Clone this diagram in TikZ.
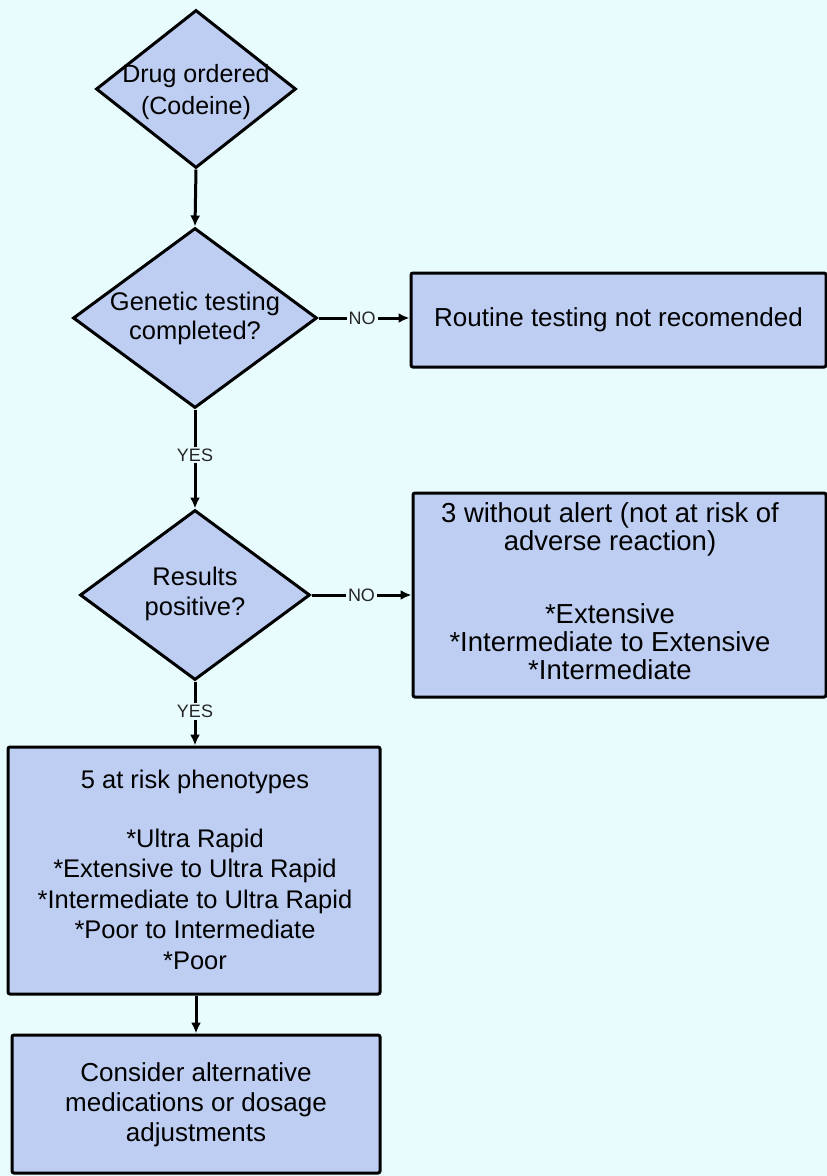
\documentclass[tikz,border=0pt]{standalone}
\usepackage{fontspec}
\setmainfont{Liberation Sans}
\usetikzlibrary{shapes.geometric,arrows.meta}
\definecolor{bg}{RGB}{232,251,253}
\definecolor{boxfill}{RGB}{189,206,242}
\begin{document}
\begin{tikzpicture}[x=1pt,y=-1pt,
  dia/.style={diamond, draw=black, line width=3pt, fill=boxfill, inner sep=0pt},
  box/.style={rectangle, draw=black, line width=3pt, fill=boxfill, inner sep=0pt, rounded corners=2pt},
  txt/.style={align=center, inner sep=0pt},
  conn/.style={line width=3pt, -{Latex[length=11pt,width=10pt]}},
  lbl/.style={fill=bg, inner sep=2pt, font=\fontsize{18}{18}\selectfont, text=black!85}]
\fill[bg] (0,0) rectangle (827,1176);
\useasboundingbox (0,0) rectangle (827,1176);

% diamonds
\node[dia, minimum width=200pt, minimum height=158pt] (d1) at (196,89) {};
\node[txt, font=\fontsize{25}{32}\selectfont] (t1) at (196,92) {Drug ordered\\(Codeine)};

\node[dia, minimum width=244pt, minimum height=180pt] (d2) at (195,318) {};
\node[txt, font=\fontsize{25.5}{29}\selectfont] (t2) at (195,318) {Genetic testing\\completed?};

\node[dia, minimum width=230pt, minimum height=170pt] (d3) at (195,595) {};
\node[txt, font=\fontsize{25.5}{30}\selectfont] (t3) at (195,594) {Results\\positive?};

% boxes
\node[box, minimum width=415pt, minimum height=94pt] (b1) at (618.5,320) {};
\node[txt, font=\fontsize{26}{30}\selectfont] (bt1) at (b1) {Routine testing not recomended};

\node[box, minimum width=413pt, minimum height=204pt] (b2) at (619.5,595) {};
\node[txt, font=\fontsize{27.5}{28}\selectfont] (bt2) at (610,591)
  {3 without alert (not at risk of\\adverse reaction)\\[45pt]*Extensive\\*Intermediate to Extensive\\*Intermediate};

\node[box, minimum width=372pt, minimum height=247pt] (b3) at (194,870.5) {};
\node[txt, font=\fontsize{25.5}{30.5}\selectfont] (bt3) at (195,870)
  {5 at risk phenotypes\\[28pt]*Ultra Rapid\\*Extensive to Ultra Rapid\\*Intermediate to Ultra Rapid\\*Poor to Intermediate\\*Poor};

\node[box, minimum width=368pt, minimum height=138pt] (b4) at (196,1104) {};
\node[txt, font=\fontsize{26}{30}\selectfont] (bt4) at (196,1105)
  {Consider alternative\\medications or dosage\\adjustments};

% connectors
\draw[conn] (d1.south) -- (d2.north);
\draw[conn] (d2.east) -- node[lbl, pos=0.48] (no1) {NO} (d2.east -| b1.west);
\draw[conn] (d2.south) -- node[lbl, pos=0.46] (yes1) {YES} (d3.north);
\draw[conn] (d3.east) -- node[lbl, pos=0.5] (no2) {NO} (d3.east -| b2.west);
\draw[conn] (d3.south) -- node[lbl, pos=0.47] (yes2) {YES} (d3.south |- b3.north);
\draw[conn] (b3.south -| b4.north) -- (b4.north);
\end{tikzpicture}
\end{document}
